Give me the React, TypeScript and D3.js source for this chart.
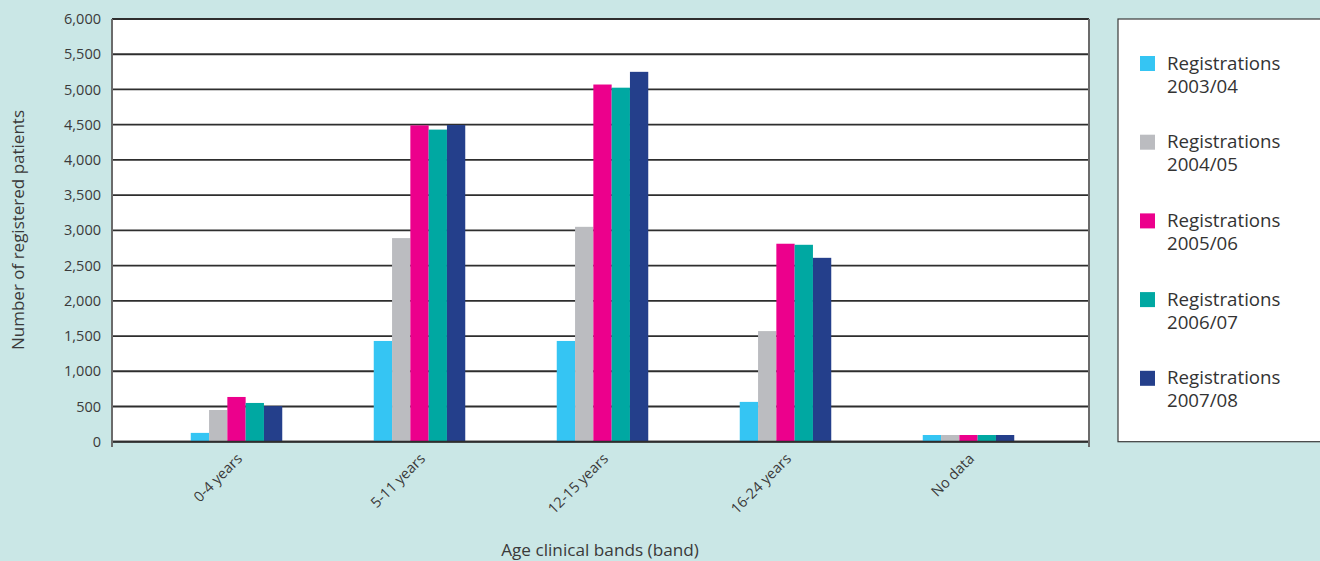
import React from "react";
import * as d3 from "d3";

const categories = ["0-4 years", "5-11 years", "12-15 years", "16-24 years", "No data"];
const seriesNames = [
  "Registrations 2003/04",
  "Registrations 2004/05",
  "Registrations 2005/06",
  "Registrations 2006/07",
  "Registrations 2007/08",
];
const reg0304 = [125, 1430, 1430, 565, 95];
const reg0405 = [450, 2890, 3050, 1570, 95];
const reg0506 = [635, 4490, 5070, 2810, 95];
const reg0607 = [550, 4430, 5025, 2795, 95];
const reg0708 = [505, 4495, 5250, 2610, 95];
const seriesValues = [reg0304, reg0405, reg0506, reg0607, reg0708];
const seriesColors = ["#35c5f3", "#bbbcc0", "#ec008c", "#00a8a2", "#243f8b"];
const yTicks = [0, 500, 1000, 1500, 2000, 2500, 3000, 3500, 4000, 4500, 5000, 5500, 6000];

const W = 1320;
const H = 561;
const plot = { left: 112, right: 1089, top: 19, bottom: 441.7 };
const FONT = "'Open Sans', 'Noto Sans', sans-serif";

export default function App() {
  const y = d3.scaleLinear().domain([0, 6000]).range([plot.bottom, plot.top]);
  const x0 = d3
    .scaleBand<string>()
    .domain(categories)
    .range([145, 1060])
    .paddingInner(0.5)
    .paddingOuter(0.25);
  const x1 = d3
    .scaleBand<number>()
    .domain(d3.range(seriesNames.length))
    .range([0, x0.bandwidth()]);
  const fmt = d3.format(",");

  const legendX = 1118;
  const legendTop = 19;
  const legendStep = 78.7;

  return (
    <svg
      width={W}
      height={H}
      style={{ position: "absolute", left: 0, top: 0, display: "block" }}
      fontFamily={FONT}
    >
      <rect x={0} y={0} width={W} height={H} fill="#cae7e6" />
      <rect
        x={plot.left}
        y={plot.top}
        width={plot.right - plot.left}
        height={plot.bottom - plot.top}
        fill="#ffffff"
      />

      {/* horizontal gridlines */}
      {yTicks.map((t) => (
        <line
          key={t}
          x1={plot.left}
          x2={plot.right}
          y1={y(t)}
          y2={y(t)}
          stroke="#2e2e2e"
          strokeWidth={1.8}
        />
      ))}

      {/* bars */}
      {categories.map((c, ci) => (
        <g key={c} transform={`translate(${x0(c)},0)`}>
          {seriesValues.map((vals, si) => (
            <rect
              key={si}
              x={x1(si)}
              y={y(vals[ci])}
              width={x1.bandwidth()}
              height={y(0) - y(vals[ci])}
              fill={seriesColors[si]}
            />
          ))}
        </g>
      ))}

      {/* baseline and side axes */}
      <line x1={plot.left} x2={plot.right} y1={y(0)} y2={y(0)} stroke="#2e2e2e" strokeWidth={2} />
      <line x1={plot.left} x2={plot.left} y1={plot.top} y2={447} stroke="#6b6b6b" strokeWidth={2} />
      <line x1={plot.right} x2={plot.right} y1={plot.top} y2={447} stroke="#6b6b6b" strokeWidth={2} />

      {/* y tick labels */}
      {yTicks.map((t) => (
        <text
          key={t}
          x={101}
          y={y(t)}
          dy="0.35em"
          textAnchor="end"
          fontSize={14.5}
          fill="#3a3a3a"
        >
          {fmt(t)}
        </text>
      ))}

      {/* x tick labels */}
      {categories.map((c) => {
        const cx = (x0(c) ?? 0) + x0.bandwidth() / 2 + 3;
        return (
          <text
            key={c}
            transform={`translate(${cx},456) rotate(-45)`}
            textAnchor="end"
            fontSize={14.5}
            fill="#3a3a3a"
            dy="0.35em"
          >
            {c}
          </text>
        );
      })}

      {/* axis titles */}
      <text
        transform={`translate(24,230) rotate(-90)`}
        textAnchor="middle"
        fontSize={17}
        fill="#3a3a3a"
      >
        Number of registered patients
      </text>
      <text x={600} y={556} textAnchor="middle" fontSize={17.2} fill="#3a3a3a">
        Age clinical bands (band)
      </text>

      {/* legend */}
      <rect
        x={legendX}
        y={legendTop}
        width={W - legendX + 5}
        height={plot.bottom - legendTop}
        fill="#ffffff"
        stroke="#3a3a3a"
        strokeWidth={1.2}
      />
      {seriesNames.map((name, i) => {
        const cy = 63 + i * legendStep;
        const parts = name.split(" ");
        return (
          <g key={name}>
            <rect x={1140} y={cy - 7} width={15} height={15} fill={seriesColors[i]} />
            <text x={1167} y={cy} dy="0.35em" fontSize={18.7} fill="#333333">
              {parts[0]}
            </text>
            <text x={1167} y={cy + 23} dy="0.35em" fontSize={18.7} fill="#333333">
              {parts[1]}
            </text>
          </g>
        );
      })}
    </svg>
  );
}
